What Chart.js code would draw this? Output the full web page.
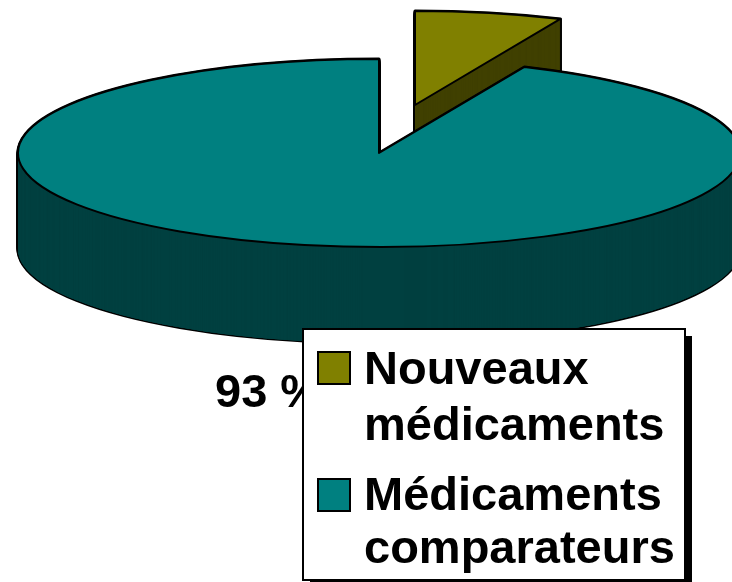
<!DOCTYPE html>
<html>
<head>
<meta charset="utf-8">
<style>html,body{margin:0;padding:0;background:#fff;overflow:hidden}canvas{display:block}</style>
<script src="https://cdn.jsdelivr.net/npm/chart.js@4"></script>
</head>
<body>
<canvas id="c" width="732" height="582"></canvas>
<script>
const categories = [['Nouveaux', 'médicaments'], ['Médicaments', 'comparateurs']];
const values = [6.6, 93.4];
const topColors = ['#808000', '#008080'];
const sideColors = ['#404000', '#004040'];
const valueLabel = '93 %';

const pie = { cx: 379, cy: 153, rx: 361, ry: 94, depth: 96, explodeX: 36, explodeY: -48 };
const legendBox = { x: 303, y: 329, w: 382, h: 251, shadow: 7, swatch: 32, font: 'bold 47px "Liberation Sans", Arial, sans-serif' };
const legendRows = [
  { swatchX: 318, swatchY: 352, textX: 364, baselines: [384, 440] },
  { swatchX: 318, swatchY: 479, textX: 364, baselines: [510, 563] }
];

function arcOptions(fill, stroke, width) {
  return { backgroundColor: fill, borderColor: stroke, borderWidth: width, borderAlign: 'center',
    borderJoinStyle: 'round', borderDash: [], borderDashOffset: 0, offset: 0, spacing: 0,
    circular: true, borderRadius: 0 };
}

const pie3d = {
  id: 'pie3d',
  beforeDatasetsDraw(chart) {
    const ctx = chart.ctx;
    const stroke = ctx.stroke;
    // keep the outline an even width although the disc is squashed
    ctx.stroke = function () {
      ctx.save();
      ctx.setTransform(1, 0, 0, 1, 0, 0);
      stroke.call(ctx);
      ctx.restore();
    };
    const paint = (el, i, drop, options) => {
      const e = Object.create(el);
      e.options = options;
      ctx.save();
      ctx.translate(pie.cx + (i === 0 ? pie.explodeX : 0), pie.cy + drop + (i === 0 ? pie.explodeY : 0));
      ctx.scale(pie.rx / el.outerRadius, pie.ry / el.outerRadius);
      ctx.translate(-el.x, -el.y);
      Chart.ArcElement.prototype.draw.call(e, ctx);
      ctx.restore();
    };
    chart.getDatasetMeta(0).data.forEach((el, i) => {
      for (let d = pie.depth; d >= 0; d--) paint(el, i, d, arcOptions(sideColors[i], '#000', 3));
      for (let pass = 0; pass < 3; pass++) {
        for (let d = pie.depth; d >= 0; d--) paint(el, i, d, arcOptions(sideColors[i], '#000', 0));
      }
      paint(el, i, 0, arcOptions(topColors[i], '#000', 2));
    });
    delete ctx.stroke;
    return false;
  },
  afterDraw(chart) {
    const ctx = chart.ctx, b = legendBox;
    ctx.save();
    ctx.fillStyle = '#000';
    ctx.textBaseline = 'alphabetic';
    ctx.textAlign = 'left';
    ctx.font = b.font;
    ctx.fillText(valueLabel, 215, 407);
    ctx.fillRect(b.x + b.shadow, b.y + b.shadow, b.w, b.h);
    ctx.fillStyle = '#fff';
    ctx.strokeStyle = '#000';
    ctx.lineWidth = 2;
    ctx.fillRect(b.x, b.y, b.w, b.h);
    ctx.strokeRect(b.x, b.y, b.w, b.h);
    legendRows.forEach((row, i) => {
      ctx.fillStyle = topColors[i];
      ctx.fillRect(row.swatchX, row.swatchY, b.swatch, b.swatch);
      ctx.strokeRect(row.swatchX, row.swatchY, b.swatch, b.swatch);
      ctx.fillStyle = '#000';
      categories[i].forEach((line, k) => ctx.fillText(line, row.textX, row.baselines[k]));
    });
    ctx.restore();
  }
};

new Chart(document.getElementById('c'), {
  type: 'pie',
  data: {
    labels: categories.map(c => c.join(' ')),
    datasets: [{ data: values, backgroundColor: topColors, borderColor: '#000', borderWidth: 2 }]
  },
  options: {
    responsive: false,
    animation: false,
    events: [],
    layout: { padding: 0 },
    plugins: { legend: { display: false }, tooltip: { enabled: false } }
  },
  plugins: [pie3d]
});
</script>
</body>
</html>
